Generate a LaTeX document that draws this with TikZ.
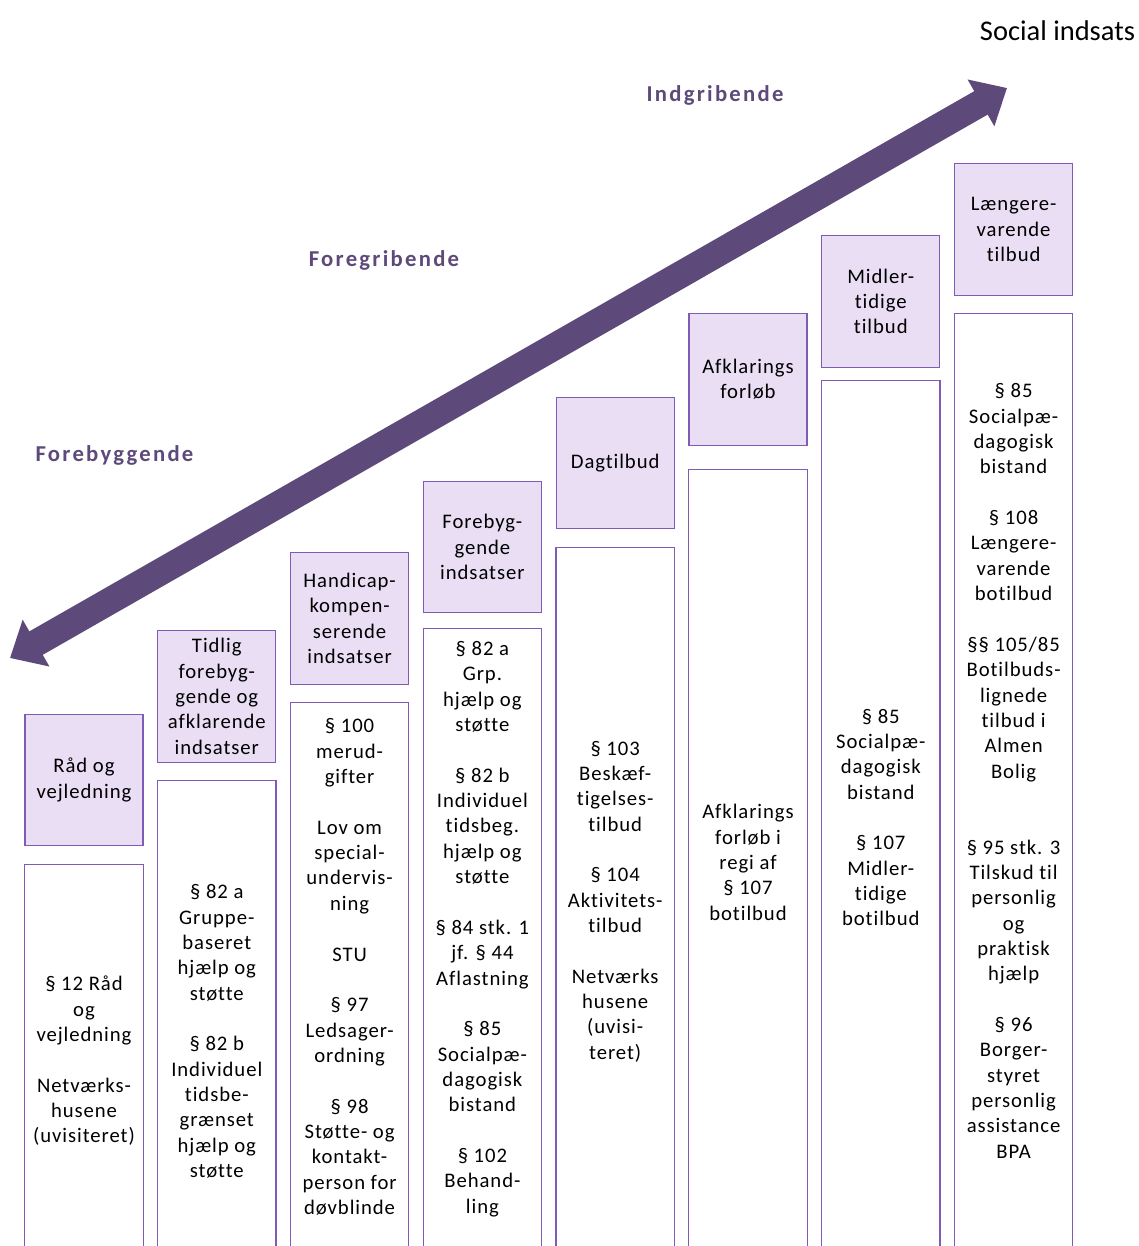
\documentclass[tikz,border=0pt]{standalone}
\usepackage{fontspec}
\setmainfont{Carlito}[Ligatures=NoCommon]
\newfontfamily\boxfont{Carlito}[LetterSpace=4.5, Ligatures=NoCommon]
\newfontfamily\levelfont{Carlito}[LetterSpace=10, Ligatures=NoCommon]
\usetikzlibrary{positioning,arrows.meta}

\definecolor{arrowpurple}{RGB}{94,74,122}
\definecolor{boxfill}{RGB}{233,222,243}
\definecolor{boxline}{RGB}{128,90,180}

\newcommand{\coltext}{\boxfont\fontsize{20.7}{25.35}\selectfont}
\newcommand{\leveltext}{\levelfont\bfseries\fontsize{22.7}{27}\selectfont}

\begin{document}
\begin{tikzpicture}[x=1pt, y=-1pt,
					head/.style={rectangle, draw=boxline, fill=boxfill, line width=1.2pt, minimum width=118pt, minimum height=131.5pt, inner sep=0pt, align=center, font=\coltext},
					body/.style={rectangle, minimum width=118pt, inner sep=0pt},
					frame/.style={draw=boxline, line width=1.2pt},
					bodytext/.style={align=center, font=\coltext},
					level/.style={font=\leveltext, text=arrowpurple}
				]
				\useasboundingbox (0,0) rectangle (1139,1246);
				% headline and the three levels
				\node[font=\fontsize{28.5}{34}\selectfont] (title) at (1057.5,31) {Social indsats};
				\node[level] (forebyggende) at (114.5,455) {Forebyggende};
				\node[level] (foregribende) at (384,260) {Foregribende};
				\node[level] (indgribende) at (715,95) {Indgribende};
				\coordinate (low) at (10,658);
				\coordinate (high) at (1007,88);
				\draw[arrowpurple, line width=27pt, {Triangle[length=30pt,width=52pt]}-{Triangle[length=30pt,width=52pt]}] (low) -- (high);
				% top boxes
				\node[head] (raad) at (84,780) {Råd og\\vejledning};
				\node[head] (tidlig) at (216.8,696.5) {Tidlig\\forebyg-\\gende og\\afklarende\\indsatser};
				\node[head] (handicap) at (349.6,618.5) {Handicap-\\kompen-\\serende\\indsatser};
				\node[head] (forebyg) at (482.4,547) {Forebyg-\\gende\\indsatser};
				\node[head] (dagtilbud) at (615.2,463) {Dagtilbud};
				\node[head] (afklaring) at (748,379.5) {Afklarings\\forløb};
				\node[head] (midler) at (880.8,301.5) {Midler-\\tidige\\tilbud};
				\node[head] (laengere) at (1013.6,229.5) {Længere-\\varende\\tilbud};
				% lower boxes, open at the bottom
				\node[body, minimum height=382pt] (raadbody) [below=18pt of raad] {};
				\node[body, minimum height=466pt] (tidligbody) [below=17.7pt of tidlig] {};
				\node[body, minimum height=544pt] (handicapbody) [below=18pt of handicap] {};
				\node[body, minimum height=618pt] (forebygbody) [below=15pt of forebyg] {};
				\node[body, minimum height=699pt] (dagtilbudbody) [below=18pt of dagtilbud] {};
				\node[body, minimum height=777pt] (afklaringbody) [below=23.7pt of afklaring] {};
				\node[body, minimum height=867pt] (midlerbody) [below=12.3pt of midler] {};
				\node[body, minimum height=933pt] (laengerebody) [below=17.5pt of laengere] {};
				\begin{scope}[frame]
				\draw (raadbody.south west) |- (raadbody.north east) -- (raadbody.south east);
				\draw (tidligbody.south west) |- (tidligbody.north east) -- (tidligbody.south east);
				\draw (handicapbody.south west) |- (handicapbody.north east) -- (handicapbody.south east);
				\draw (forebygbody.south west) |- (forebygbody.north east) -- (forebygbody.south east);
				\draw (dagtilbudbody.south west) |- (dagtilbudbody.north east) -- (dagtilbudbody.south east);
				\draw (afklaringbody.south west) |- (afklaringbody.north east) -- (afklaringbody.south east);
				\draw (midlerbody.south west) |- (midlerbody.north east) -- (midlerbody.south east);
				\draw (laengerebody.south west) |- (laengerebody.north east) -- (laengerebody.south east);
				\end{scope}
				% texts of the lower boxes
				\node[bodytext] (raadtext) at (84,1061) {§ 12 Råd\\og\\vejledning\\~\\Netværks-\\husene\\(uvisiteret)};
				\node[bodytext] (tidligtext) at (216.8,1031.5) {§ 82 a\\Gruppe-\\baseret\\hjælp og\\støtte\\~\\§ 82 b\\Individuel\\tidsbe-\\grænset\\hjælp og\\støtte};
				\node[bodytext] (handicaptext) at (349.6,967) {§ 100\\merud-\\gifter\\~\\Lov om\\special-\\undervis-\\ning\\~\\STU\\~\\§ 97\\Ledsager-\\ordning\\~\\§ 98\\Støtte- og\\kontakt-\\person for\\døvblinde};
				\node[bodytext] (forebygtext) at (482.4,929) {§ 82 a\\Grp.\\hjælp og\\støtte\\~\\§ 82 b\\Individuel\\tidsbeg.\\hjælp og\\støtte\\~\\§ 84 stk. 1\\jf. § 44\\Aflastning\\~\\§ 85\\Socialpæ-\\dagogisk\\bistand\\~\\§ 102\\Behand-\\ling};
				\node[bodytext] (dagtilbudtext) at (615.2,901.5) {§ 103\\Beskæf-\\tigelses-\\tilbud\\~\\§ 104\\Aktivitets-\\tilbud\\~\\Netværks\\husene\\(uvisi-\\teret)};
				\node[bodytext] (afklaringtext) at (748,862.5) {Afklarings\\forløb i\\regi af\\§ 107\\botilbud};
				\node[bodytext] (midlertext) at (880.8,817.5) {§ 85\\Socialpæ-\\dagogisk\\bistand\\~\\§ 107\\Midler-\\tidige\\botilbud};
				\node[bodytext] (laengeretext) at (1013.6,771) {§ 85\\Socialpæ-\\dagogisk\\bistand\\~\\§ 108\\Længere-\\varende\\botilbud\\~\\§§ 105/85\\Botilbuds-\\lignede\\tilbud i\\Almen\\Bolig\\~\\~\\§ 95 stk. 3\\Tilskud til\\personlig\\og\\praktisk\\hjælp\\~\\§ 96\\Borger-\\styret\\personlig\\assistance\\BPA};
				\end{tikzpicture}
\end{document}
